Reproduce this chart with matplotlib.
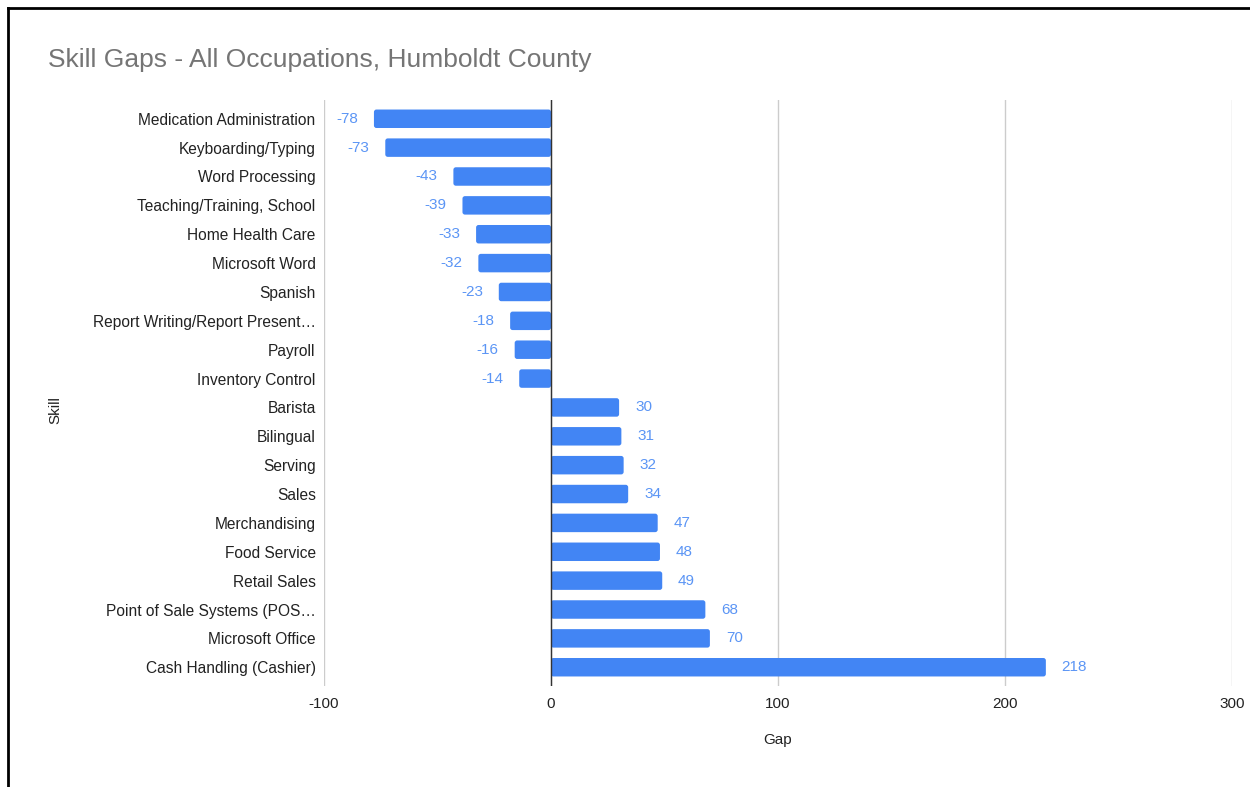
import matplotlib
matplotlib.use('Agg')
import matplotlib.pyplot as plt
from matplotlib.lines import Line2D
from matplotlib.patches import FancyBboxPatch

# skill gap per skill, top to bottom
skills = ['Medication Administration', 'Keyboarding/Typing', 'Word Processing',
          'Teaching/Training, School', 'Home Health Care', 'Microsoft Word',
          'Spanish', 'Report Writing/Report Present\u2026', 'Payroll',
          'Inventory Control', 'Barista', 'Bilingual', 'Serving', 'Sales',
          'Merchandising', 'Food Service', 'Retail Sales',
          'Point of Sale Systems (POS\u2026', 'Microsoft Office',
          'Cash Handling (Cashier)']
gaps = [-78, -73, -43, -39, -33, -32, -23, -18, -16, -14,
        30, 31, 32, 34, 47, 48, 49, 68, 70, 218]
xticks = [-100, 0, 100, 200, 300]

plt.rcParams['font.family'] = ['Liberation Sans', 'DejaVu Sans']

bar_color = '#4285f4'
label_color = '#5b95f5'
text_color = '#222222'

fig = plt.figure(figsize=(12.5, 7.87), dpi=100)
ax = fig.add_axes([324 / 1250, 1 - 686 / 787, (1232 - 324) / 1250, (686 - 100) / 787])

ax.set_xlim(-100, 300)
ax.set_ylim(len(skills) - 0.35, -0.65)

ypos = list(range(len(skills)))
bars = ax.barh(ypos, gaps, height=0.64, color=bar_color, zorder=2)

# swap the plain rectangles for ones with slightly rounded corners
px_x = 400 / 908.0
px_y = (len(skills) + 0.3) / 586.0
for b in bars:
    b.set_visible(False)
    x0, y0, w, h = b.get_x(), b.get_y(), b.get_width(), b.get_height()
    if w < 0:
        x0, w = x0 + w, -w
    ax.add_patch(FancyBboxPatch((x0, y0), w, h,
                                boxstyle='round,pad=0,rounding_size=%f' % (2.5 * px_x),
                                mutation_aspect=px_y / px_x,
                                facecolor=bar_color, edgecolor='none', zorder=2))

for y, v in zip(ypos, gaps):
    if v < 0:
        ax.text(v - 7, y, str(v), ha='right', va='center', color=label_color, fontsize=11)
    else:
        ax.text(v + 7, y, str(v), ha='left', va='center', color=label_color, fontsize=11)

ax.set_xticks(xticks)
ax.set_xticklabels([str(t) for t in xticks], fontsize=11, color=text_color)
ax.set_yticks(ypos)
ax.set_yticklabels(skills, fontsize=11.2, color=text_color)
ax.tick_params(length=0)
ax.tick_params(axis='y', pad=6)
ax.tick_params(axis='x', pad=8)

ax.grid(axis='x', color='#cccccc', linewidth=1, zorder=0)
ax.axvline(0, color='#333333', linewidth=1, zorder=3)
for s in ax.spines.values():
    s.set_visible(False)

ax.set_xlabel('Gap', fontsize=11, color=text_color, labelpad=16)
fig.text(55 / 1250, 1 - 410 / 787, 'Skill', rotation=90, ha='center', va='center',
         fontsize=11, color=text_color)

fig.text(48 / 1250, 1 - 60 / 787, 'Skill Gaps - All Occupations, Humboldt County',
         ha='left', va='center', fontsize=19, color='#757575')

# frame lines along the left and top edges
fig.add_artist(Line2D([8 / 1250, 8 / 1250], [0, 1 - 8 / 787], color='black', linewidth=2,
                      transform=fig.transFigure))
fig.add_artist(Line2D([8 / 1250, 1], [1 - 8 / 787, 1 - 8 / 787], color='black', linewidth=2,
                      transform=fig.transFigure))

fig.savefig('out.png', dpi=100)
